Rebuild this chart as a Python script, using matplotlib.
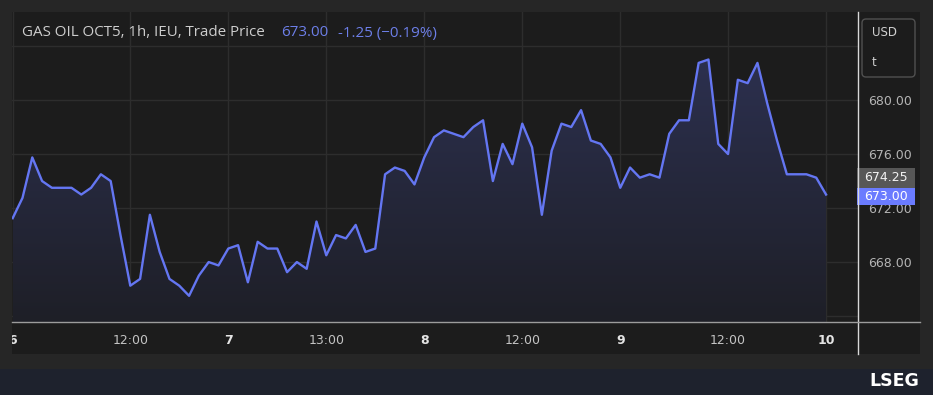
import numpy as np
import matplotlib
matplotlib.use("Agg")
import matplotlib.pyplot as plt
from matplotlib.patches import Rectangle, FancyBboxPatch, Polygon
from matplotlib.colors import LinearSegmentedColormap
from matplotlib.transforms import Bbox, TransformedBbox

# ---------------- data ----------------
prices = [671.25, 672.75, 675.75, 674.0, 673.5, 673.5, 673.5, 673.0, 673.5, 674.5,
          674.0, 670.0, 666.25, 666.75, 671.5, 668.75, 666.75, 666.25, 665.5, 667.0,
          668.0, 667.75, 669.0, 669.25, 666.5, 669.5, 669.0, 669.0, 667.25, 668.0,
          667.5, 671.0, 668.5, 670.0, 669.75, 670.75, 668.75, 669.0, 674.5, 675.0,
          674.75, 673.75, 675.75, 677.25, 677.75, 677.5, 677.25, 678.0, 678.5, 674.0,
          676.75, 675.25, 678.25, 676.5, 671.5, 676.25, 678.25, 678.0, 679.25, 677.0,
          676.75, 675.75, 673.5, 675.0, 674.25, 674.5, 674.25, 677.5, 678.5, 678.5,
          682.75, 683.0, 676.75, 676.0, 681.5, 681.25, 682.75, 679.75, 677.0, 674.5,
          674.5, 674.5, 674.25, 673.0]
tick_idx = [0, 12, 22, 32, 42, 52, 62, 73, 83]
tick_labels = ["6", "12:00", "7", "13:00", "8", "12:00", "9", "12:00", "10"]
y_grid = [664, 668, 672, 676, 680, 684]
y_labels = ["", "668.00", "672.00", "676.00", "680.00", ""]
title = "GAS OIL OCT5, 1h, IEU, Trade Price"
last_price = 673.00
prev_close = 674.25
change = -1.25
change_pct = -0.19
currency = "USD"
unit = "t"

W, H = 933, 395
fig = plt.figure(figsize=(W / 100, H / 100), dpi=100, facecolor="#262626")

def fx(px):
    return px / W

def fy(py):
    return 1 - py / H

# background layer (pixel coords, y downward)
bg = fig.add_axes([0, 0, 1, 1], zorder=0)
bg.set_xlim(0, W); bg.set_ylim(H, 0); bg.axis("off")
bg.add_patch(Rectangle((12, 12), 908, 342, facecolor="#1c1c1c", edgecolor="none"))
bg.add_patch(Rectangle((0, 369), W, H - 369, facecolor="#1e222d", edgecolor="none"))

# main axes
ax = fig.add_axes([fx(12), fy(322), fx(858) - fx(12), fy(12) - fy(322)], zorder=1)
ax.set_facecolor("none")
x = np.arange(len(prices))
ymin, ymax = 663.56, 686.52

ax.set_yticks(y_grid)
ax.set_yticklabels(y_labels)
ax.yaxis.tick_right()
ax.set_xticks(tick_idx)
ax.set_xticklabels(tick_labels)
ax.grid(True, color="#2d2d2d", lw=1)
ax.set_axisbelow(True)
for s in ax.spines.values():
    s.set_visible(False)
ax.tick_params(axis="y", length=0, pad=7, labelsize=9, labelcolor="#b4b4b4")
ax.tick_params(axis="x", length=0, pad=9, labelsize=9, labelcolor="#c4c4c4")
clipbox = TransformedBbox(Bbox([[fx(12), 0], [fx(920), 1]]), fig.transFigure)
for lab in ax.get_xticklabels():
    lab.set_family(["Liberation Sans Narrow", "DejaVu Sans"])
    if ":" not in lab.get_text():
        lab.set_fontweight("bold")
        lab.set_color("#e4e4e4")
    lab.set_clip_on(True)
    lab.set_clip_box(clipbox)

# gradient fill
verts = [(x[0], ymin)] + list(zip(x, prices)) + [(x[-1], ymin)]
poly = Polygon(verts, closed=True, facecolor="none", edgecolor="none")
ax.add_patch(poly)
cmap = LinearSegmentedColormap.from_list("g", ["#1e1f27", "#2c304f"])
grad = np.linspace(0, 1, 256).reshape(-1, 1)
im = ax.imshow(grad, extent=[x[0], x[-1], ymin, max(prices)], origin="lower",
               aspect="auto", cmap=cmap, zorder=1, interpolation="bilinear")
im.set_clip_path(poly)
ax.set_xlim(-0.07, 86.26)
ax.set_ylim(ymin, ymax)

ax.plot(x, prices, color="#6476f2", lw=1.7, solid_joinstyle="round", zorder=3)

# overlay (pixel coords)
ov = fig.add_axes([0, 0, 1, 1], zorder=2)
ov.set_xlim(0, W); ov.set_ylim(H, 0); ov.axis("off")
ov.patch.set_alpha(0)
ov.plot([858, 858], [12, 354], color="#d8d8d8", lw=1)
ov.plot([12, 920], [322, 322], color="#9c9c9c", lw=1)

ov.add_patch(FancyBboxPatch((862, 19), 53, 58, boxstyle="round,pad=0,rounding_size=4",
                            facecolor="#1c1c1c", edgecolor="#505050", lw=1))
ov.text(872, 33, currency, color="#d0d0d0", fontsize=8.5, va="center", ha="left")
ov.text(872, 63, unit, color="#d0d0d0", fontsize=8.5, va="center", ha="left")

def price_to_py(p):
    return H - ax.transData.transform((0, p))[1]

# price labels
gy = price_to_py(prev_close)
by = price_to_py(last_price)
bh = 20
g_top = gy - bh / 2
b_top = max(by - bh / 2, g_top + bh)
ov.add_patch(Rectangle((857, g_top), 58, bh, facecolor="#575757", edgecolor="none"))
ov.text(886, g_top + bh / 2, f"{prev_close:.2f}", color="#f2f2f2", fontsize=9,
        ha="center", va="center")
ov.add_patch(Rectangle((857, b_top), 58, bh - 3, facecolor="#6a7bff", edgecolor="none"))
ov.text(886, b_top + (bh - 3) / 2, f"{last_price:.2f}", color="#ffffff", fontsize=9,
        ha="center", va="center")

# title
tfont = ["Open Sans", "DejaVu Sans"]
ov.text(22, 33, title, color="#cdcdcd", fontsize=10.9, va="center", ha="left", family=tfont)
ov.text(281, 33, f"{last_price:.2f}", color="#6d7fe9", fontsize=10.9, va="center",
        ha="left", family=tfont)
ov.text(338, 33, f"{change:.2f} (\u2212{abs(change_pct):.2f}%)", color="#6d7fe9",
        fontsize=10.9, va="center", ha="left", family=tfont)

# brand
ov.text(919, 381, "LSEG", color="white", fontsize=12.5, fontweight="bold", ha="right",
        va="center", family=["DejaVu Sans"])

fig.savefig("out.png", dpi=100, facecolor=fig.get_facecolor())
